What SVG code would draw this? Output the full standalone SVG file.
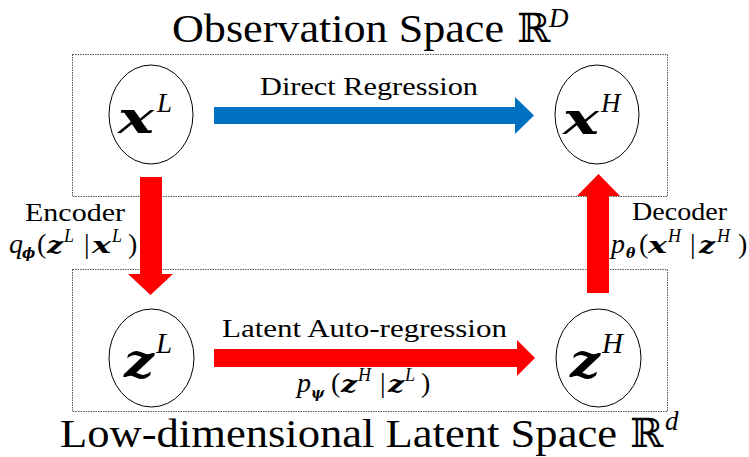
<svg xmlns="http://www.w3.org/2000/svg" width="749" height="457" viewBox="0 0 749 457">
<style>
text{font-family:"Liberation Serif","DejaVu Serif",serif;fill:#000}
.mi{font-style:italic}
.mb{font-family:"DejaVu Serif",serif;font-style:italic;font-weight:bold}
.box{fill:none;stroke:#555;stroke-width:1;stroke-dasharray:1.5 1}
.node{fill:#fff;stroke:#000;stroke-width:1}
.red{fill:#FF0000}
.blue{fill:#0070C0}
</style>
<rect width="749" height="457" fill="#fff"/>
<g id="spaces">
<rect class="box" x="72.5" y="54.5" width="595" height="142"/>
<rect class="box" x="72.5" y="269.5" width="595" height="142"/>
<text x="172" y="42" font-size="40" textLength="332" lengthAdjust="spacingAndGlyphs">Observation Space</text>
<text x="517" y="42" font-size="40" font-family="DejaVu Serif">ℝ</text>
<text class="mi" x="549" y="27" font-size="27">D</text>
<text x="60" y="447" font-size="40" textLength="557" lengthAdjust="spacingAndGlyphs">Low-dimensional Latent Space</text>
<text x="630" y="447" font-size="40" font-family="DejaVu Serif">ℝ</text>
<text class="mi" x="665" y="430" font-size="27">d</text>
</g>
<g id="connectors">
<g id="direct">
<polygon class="blue" points="214,107 515,107 515,97 534,115.5 515,134 515,124 214,124"/>
<text x="260" y="95" font-size="26" textLength="218" lengthAdjust="spacingAndGlyphs">Direct Regression</text>
</g>
<g id="encoder">
<polygon class="red" points="140,177 162,177 162,274 173,274 150.5,295 128,274 140,274"/>
<text x="25" y="221" font-size="26" textLength="100" lengthAdjust="spacingAndGlyphs">Encoder</text>
<text class="mi" x="9" y="253" font-size="28">q</text>
<text class="mb" x="22" y="258" font-size="14">ϕ</text>
<text x="37" y="253" font-size="28">(</text>
<text class="mb" x="47" y="253" font-size="23" textLength="16" lengthAdjust="spacingAndGlyphs">z</text>
<text class="mi" x="64" y="242" font-size="18">L</text>
<text x="84" y="253" font-size="28">|</text>
<text class="mb" x="92" y="253" font-size="23" textLength="19" lengthAdjust="spacingAndGlyphs">x</text>
<text class="mi" x="112" y="242" font-size="18">L</text>
<text x="128" y="253" font-size="28">)</text>
</g>
<g id="decoder">
<polygon class="red" points="587,293 609,293 609,196 620,196 598.5,174 577,196 587,196"/>
<text x="632" y="220" font-size="26" textLength="95" lengthAdjust="spacingAndGlyphs">Decoder</text>
<text class="mi" x="611" y="253" font-size="28">p</text>
<text class="mb" x="626" y="258" font-size="14">θ</text>
<text x="639" y="253" font-size="28">(</text>
<text class="mb" x="648" y="253" font-size="23" textLength="19" lengthAdjust="spacingAndGlyphs">x</text>
<text class="mi" x="668" y="242" font-size="18">H</text>
<text x="690" y="253" font-size="28">|</text>
<text class="mb" x="699" y="253" font-size="23" textLength="16" lengthAdjust="spacingAndGlyphs">z</text>
<text class="mi" x="717" y="242" font-size="18">H</text>
<text x="738" y="253" font-size="28">)</text>
</g>
<g id="latent">
<polygon class="red" points="214,349 517,349 517,340 535,358 517,376 517,367 214,367"/>
<text x="222" y="337" font-size="26" textLength="285" lengthAdjust="spacingAndGlyphs">Latent Auto-regression</text>
<text class="mi" x="297" y="392" font-size="28">p</text>
<text class="mb" x="311" y="398" font-size="14">ψ</text>
<text x="331" y="392" font-size="28">(</text>
<text class="mb" x="341" y="392" font-size="23" textLength="16" lengthAdjust="spacingAndGlyphs">z</text>
<text class="mi" x="358" y="381" font-size="18">H</text>
<text x="380" y="392" font-size="28">|</text>
<text class="mb" x="388" y="392" font-size="23" textLength="16" lengthAdjust="spacingAndGlyphs">z</text>
<text class="mi" x="405" y="381" font-size="18">L</text>
<text x="421" y="392" font-size="28">)</text>
</g>
</g>
<g id="xL">
<ellipse class="node" cx="151" cy="114.5" rx="42" ry="49.5"/>
<text class="mb" x="118" y="133" font-size="44" textLength="36" lengthAdjust="spacingAndGlyphs">x</text>
<text class="mi" x="157" y="112" font-size="27">L</text>
</g>
<g id="xH">
<ellipse class="node" cx="597" cy="114.5" rx="42" ry="49.5"/>
<text class="mb" x="563" y="134" font-size="44" textLength="36" lengthAdjust="spacingAndGlyphs">x</text>
<text class="mi" x="601" y="112" font-size="27">H</text>
</g>
<g id="zL">
<ellipse class="node" cx="151.5" cy="358" rx="42.5" ry="49"/>
<text class="mb" x="124" y="377" font-size="46" textLength="30" lengthAdjust="spacingAndGlyphs">z</text>
<text class="mi" x="156" y="353" font-size="29">L</text>
</g>
<g id="zH">
<ellipse class="node" cx="598.5" cy="358" rx="42.5" ry="49"/>
<text class="mb" x="570" y="377" font-size="46" textLength="30" lengthAdjust="spacingAndGlyphs">z</text>
<text class="mi" x="602" y="353" font-size="29">H</text>
</g>
</svg>
